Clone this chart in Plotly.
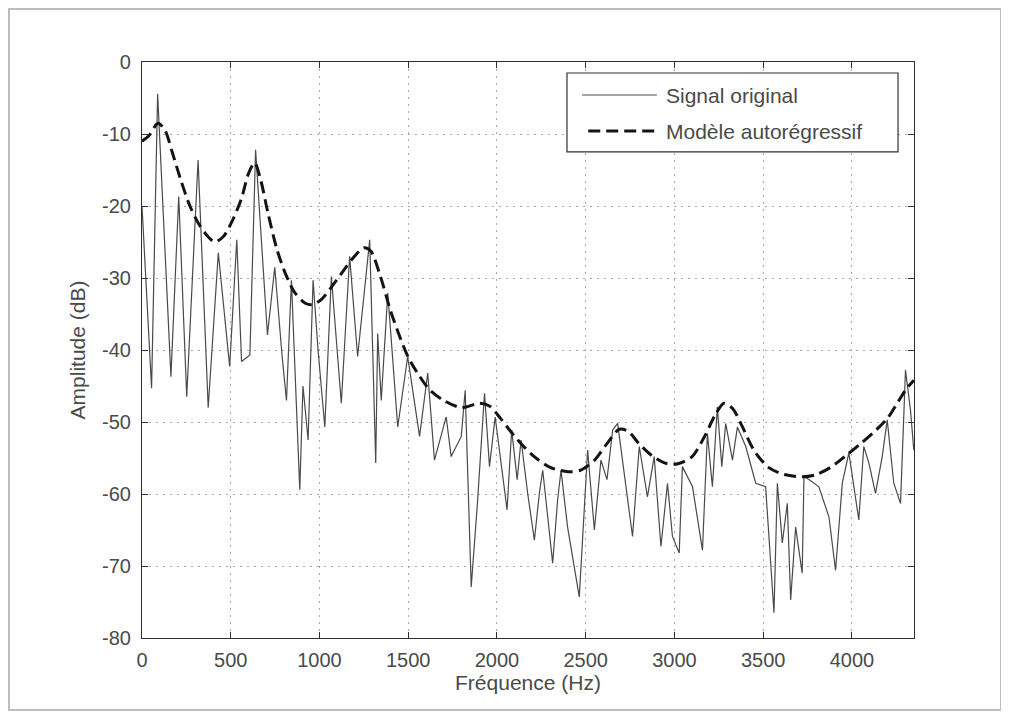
import plotly.graph_objects as go

# ---- data ----
freq_signal = [0, 26, 54, 88, 163, 207, 252, 316, 373, 430, 494, 534, 561, 608, 640,
               707, 748, 790, 814, 842, 889, 907, 936, 964, 992, 1030, 1067, 1123, 1170,
               1215, 1283, 1317, 1328, 1348, 1385, 1441, 1497, 1564, 1610, 1648, 1714,
               1742, 1799, 1821, 1855, 1890, 1930, 1958, 1990, 2057, 2083, 2114, 2136,
               2173, 2211, 2239, 2258, 2314, 2342, 2361, 2398, 2464, 2511, 2549, 2586,
               2620, 2652, 2680, 2764, 2802, 2848, 2886, 2924, 2961, 2989, 3027, 3045,
               3102, 3158, 3186, 3214, 3242, 3267, 3289, 3327, 3355, 3402, 3458, 3514,
               3561, 3580, 3608, 3636, 3655, 3683, 3720, 3730, 3758, 3814, 3871, 3908,
               3946, 3983, 4039, 4067, 4096, 4133, 4171, 4199, 4236, 4274, 4302, 4330, 4349]
amp_signal = [-20, -32, -45.3, -4.4, -43.7, -18.7, -46.5, -13.6, -48, -26.5, -42.3, -24.7,
              -41.6, -40.7, -12.2, -37.9, -28.5, -41, -47, -30.3, -59.4, -45, -52.5, -30.3,
              -40, -50.7, -29.8, -47.4, -27, -40.9, -24.7, -55.7, -37.7, -47, -32.1, -50.7,
              -40.9, -52, -43.2, -55.3, -49.3, -54.8, -52, -45.6, -72.9, -61.3, -46, -56.2,
              -49.3, -62.2, -51.1, -58, -52.5, -59.9, -66.4, -59.9, -56.7, -69.6, -60.8,
              -56.7, -64.6, -74.3, -53.9, -65, -55.3, -58, -51.1, -50.2, -65.9, -53.4,
              -60.4, -54.8, -67.3, -58.5, -65.9, -68.2, -56.2, -59, -67.8, -51.6, -59,
              -47.9, -56.2, -50.2, -55.3, -50.7, -53.4, -58.5, -59, -76.5, -58.5, -66.8,
              -61.3, -74.7, -64.6, -71, -57.6, -58, -59, -63.2, -70.6, -58.5, -54.3, -63.6,
              -53.4, -55.7, -59.9, -54.8, -49.7, -58.5, -61.3, -42.8, -48.3, -53.9]

freq_ar = [0, 40, 90, 130, 170, 220, 270, 320, 370, 410, 460, 510, 560, 600, 635, 670,
           710, 760, 810, 860, 920, 960, 1010, 1060, 1120, 1180, 1250, 1290, 1340, 1400,
           1450, 1500, 1560, 1620, 1700, 1800, 1900, 1960, 2020, 2100, 2200, 2300, 2400,
           2470, 2550, 2620, 2690, 2740, 2800, 2880, 2960, 3020, 3100, 3170, 3230, 3280,
           3330, 3380, 3450, 3530, 3620, 3720, 3800, 3880, 3960, 4040, 4120, 4200, 4260,
           4310, 4350]
amp_ar = [-11, -10.2, -8.5, -9.5, -12.5, -16.5, -20, -22.5, -24.2, -25, -24.2, -22, -19,
          -15.5, -14, -16.5, -21, -26, -29.5, -32, -33.5, -33.7, -33, -31.5, -29.5, -27.5,
          -25.8, -26.3, -29.5, -34.5, -38, -41, -43.5, -45.5, -47, -48, -47.4, -47.8,
          -49.5, -52, -54.6, -56.3, -56.9, -56.7, -55.3, -53, -51, -51.3, -53, -54.8,
          -55.8, -55.8, -54.8, -52, -49, -47.4, -48.2, -50.5, -54, -56.3, -57.3, -57.6,
          -57.3, -56.3, -54.8, -53.2, -51.5, -49.5, -47.2, -45.3, -44.2]

x_ticks = [0, 500, 1000, 1500, 2000, 2500, 3000, 3500, 4000]
y_ticks = [0, -10, -20, -30, -40, -50, -60, -70, -80]

series_names = ["Signal original", "Modèle autorégressif"]

FONT = "Liberation Sans, Arial, sans-serif"
TEXT_COLOR = "#4a4a4a"
SIGNAL_STYLE = dict(color="#4a4a4a", width=1.2)
AR_STYLE = dict(color="#141414", width=3, dash="12px,6px")

fig = go.Figure()
fig.add_trace(go.Scatter(x=freq_signal, y=amp_signal, mode="lines",
                         name=series_names[0], showlegend=False,
                         line=SIGNAL_STYLE))
fig.add_trace(go.Scatter(x=freq_ar, y=amp_ar, mode="lines",
                         name=series_names[1], showlegend=False,
                         line=dict(**AR_STYLE, shape="spline", smoothing=0.8)))

axis_common = dict(
    showline=True, linecolor="#303030", linewidth=1.2, mirror="ticks",
    ticks="inside", ticklen=6, tickcolor="#303030",
    showgrid=True, gridcolor="#a8a8a8", griddash="2px,5px", gridwidth=1,
    zeroline=False,
    tickfont=dict(family=FONT, size=20, color=TEXT_COLOR),
)

fig.update_xaxes(range=[0, 4350], tickvals=x_ticks, ticktext=[str(v) for v in x_ticks],
                 ticklabelstandoff=4,
                 title=dict(text="Fréquence (Hz)", font=dict(family=FONT, size=21, color=TEXT_COLOR),
                            standoff=4),
                 **axis_common)
fig.update_yaxes(range=[-80, 0], tickvals=y_ticks, ticktext=[str(v) for v in y_ticks],
                 ticklabelstandoff=6,
                 title=dict(text="Amplitude (dB)", font=dict(family=FONT, size=21, color=TEXT_COLOR),
                            standoff=10),
                 **axis_common)

# legend box (built to match the reference's wide MATLAB legend)
leg_x0, leg_x1, leg_y0, leg_y1 = 0.5505, 0.9793, 0.8438, 0.9809
line_x0, line_x1 = 0.570, 0.667
row_y = [0.9427, 0.8802]
text_x = 0.6762

shapes = [
    dict(type="rect", xref="paper", yref="paper",
         x0=-0.1723, x1=1.1127, y0=-0.125, y1=1.092,
         line=dict(color="#bdbdbd", width=2), layer="below"),
    dict(type="rect", xref="paper", yref="paper",
         x0=leg_x0, x1=leg_x1, y0=leg_y0, y1=leg_y1,
         line=dict(color="#303030", width=1.2), fillcolor="white", layer="above"),
    dict(type="line", xref="paper", yref="paper",
         x0=line_x0, x1=line_x1, y0=row_y[0], y1=row_y[0], line=SIGNAL_STYLE),
    dict(type="line", xref="paper", yref="paper",
         x0=line_x0 + 0.008, x1=line_x1, y0=row_y[1], y1=row_y[1], line=AR_STYLE),
]
annotations = [
    dict(xref="paper", yref="paper", x=text_x, y=yy, text=name, showarrow=False,
         xanchor="left", yanchor="middle",
         font=dict(family=FONT, size=21, color=TEXT_COLOR))
    for name, yy in zip(series_names, row_y)
]

fig.update_layout(
    width=1009, height=714,
    margin=dict(l=134, r=103, t=54, b=84),
    paper_bgcolor="white", plot_bgcolor="white",
    font=dict(family=FONT, color=TEXT_COLOR),
    showlegend=False,
    shapes=shapes,
    annotations=annotations,
)

fig.write_html("out.html")
